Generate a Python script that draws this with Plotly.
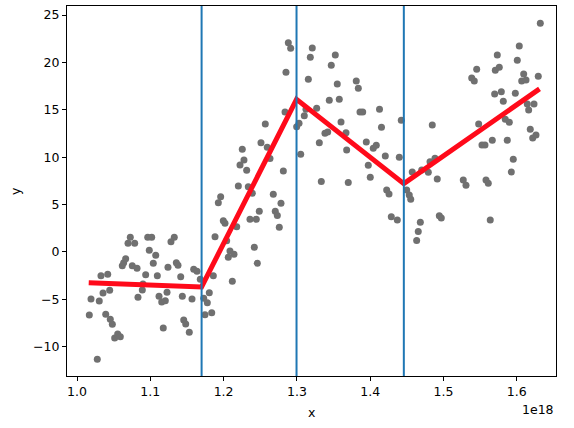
import numpy as np
import plotly.graph_objects as go

SCALE = 1e18

# scatter data (x in units of 1e18)
x_pts = [1.0168, 1.0191, 1.0277, 1.0304, 1.0327, 1.0355, 1.0392, 1.0419, 1.0446, 1.0454,
         1.0482, 1.0514, 1.0555, 1.0591, 1.0618, 1.0637, 1.0664, 1.0696, 1.0727, 1.0754,
         1.0787, 1.0819, 1.0832, 1.0891, 1.0900, 1.0937, 1.0965, 1.1019, 1.0986, 1.1041,
         1.1074, 1.1096, 1.1119, 1.1156, 1.1177, 1.1205, 1.1228, 1.1241, 1.1282, 1.1327,
         1.1355, 1.1378, 1.1415, 1.1437, 1.1456, 1.1483, 1.1532, 1.1569, 1.1592, 1.1637,
         1.1682, 1.1729, 1.1746, 1.1778, 1.1805, 1.1838, 1.1860,
         1.1883, 1.1928, 1.1960, 1.1996, 1.2019, 1.2042, 1.2064, 1.2087, 1.2142, 1.2119,
         1.2179, 1.2201, 1.2224, 1.2255, 1.2278, 1.2315, 1.2337, 1.2360, 1.2392, 1.2419,
         1.2446, 1.2460, 1.2487, 1.2510, 1.2569, 1.2596, 1.2633, 1.2678, 1.2705, 1.2733,
         1.2760, 1.2783, 1.2815, 1.2838, 1.2851, 1.2883, 1.2915, 1.2997,
         1.3029, 1.3052, 1.3101, 1.3124, 1.3156, 1.3183, 1.3210, 1.3270, 1.3306, 1.3333,
         1.3383, 1.3420, 1.3442, 1.3469, 1.3524, 1.3551, 1.3578, 1.3602, 1.3670, 1.3679,
         1.3701, 1.3810, 1.3838, 1.3861, 1.3898, 1.3947, 1.3974, 1.4001, 1.4042, 1.4083,
         1.4127, 1.4154, 1.4206, 1.4225, 1.4257, 1.4288, 1.4370, 1.4397, 1.4424,
         1.4498, 1.4533, 1.4553, 1.4574, 1.4634, 1.4656, 1.4684, 1.4703, 1.4793, 1.4816,
         1.4847, 1.4884, 1.4915, 1.4943, 1.4970, 1.5270, 1.5307, 1.5385, 1.5420, 1.5453,
         1.5480, 1.5525, 1.5566, 1.5580, 1.5611, 1.5638, 1.5666, 1.5698, 1.5707, 1.5734,
         1.5761, 1.5789, 1.5816, 1.5843, 1.5870, 1.5898, 1.5925, 1.5952, 1.5980, 1.6007,
         1.6034, 1.6067, 1.6094, 1.6126, 1.6143, 1.6162, 1.6184, 1.6217, 1.6235, 1.6262,
         1.6293, 1.6321]

y_pts = [-6.66, -4.97, -11.33, -5.18, -2.51, -4.34, -6.59, -2.36, -4.05, -7.11,
         -7.64, -9.09, -8.66, -8.95, -1.46, -1.14, -0.72, 0.91, 1.54, -1.46,
         0.91, -1.73, -4.79, -4.02, -3.39, -2.41, 1.54, 1.54, 0.17, -1.20,
         -0.36, -2.51, -4.69, -5.29, -8.03, -5.15, -4.26, -1.63, 1.08, 1.54,
         -1.14, -1.41, -2.62, -4.69, -7.19, -7.61, -8.49, -4.97, -1.84, -2.05,
         -2.89, -4.90, -6.63, -5.36, -4.31, -6.42, -2.51,
         1.60, 5.19, 5.83, 3.29, 3.02, 1.18, -0.57, 0.09, -0.25, -3.10,
         2.66, 6.95, 9.17, 10.83, 9.70, 8.61, 6.88, 3.44, 6.18, 0.49,
         3.44, -1.20, 4.28, 11.52, 13.50, 11.04, 9.86, 6.08, 4.28, 3.84,
         2.60, 5.13, 8.54, 14.76, 18.95, 22.08, 21.49, 13.21,
         13.57, 10.31, 14.37, 15.05, 18.21, 20.54, 21.52, 15.15, 11.52, 7.43,
         12.52, 12.65, 16.00, 19.69, 20.78, 17.72, 16.10, 13.71, 12.58, 10.75,
         7.32, 18.04, 17.26, 14.76, 14.76, 11.60, 9.14, 7.87, 10.93, 11.25,
         15.05, 13.15, 10.12, 6.53, 6.11, 3.71, 3.37, 9.98, 13.89,
         6.53, 6.00, 5.55, 8.43, 1.20, 2.15, 3.12, 8.64, 8.40, 9.52,
         13.39, 9.88, 7.69, 3.82, 3.58, 7.59, 7.03, 18.35, 18.04, 19.27,
         13.50, 11.28, 11.28, 7.59, 7.24, 3.37, 11.78, 16.66, 19.16, 20.78,
         19.48, 16.91, 15.89, 13.99, 11.78, 13.68, 8.43, 9.77, 16.74, 20.22,
         21.73, 18.04, 18.77, 18.14, 15.61, 14.97, 12.94, 12.02, 15.61, 12.34,
         18.53, 24.12]

# piecewise fit
fit_x = [1.0160, 1.1700, 1.2995, 1.4459, 1.6310]
fit_y = [-3.25, -3.70, 16.10, 7.20, 17.20]

# breakpoints (vertical lines)
breaks = [1.1700, 1.2995, 1.4459]

# axis ticks
x_ticks = [1.0, 1.1, 1.2, 1.3, 1.4, 1.5, 1.6]
x_ticklabels = ["1.0", "1.1", "1.2", "1.3", "1.4", "1.5", "1.6"]
y_ticks = [-10, -5, 0, 5, 10, 15, 20, 25]

FONT = "DejaVu Sans"
FS = 12.5

fig = go.Figure()
fig.add_trace(go.Scatter(
    x=np.array(x_pts) * SCALE, y=y_pts, mode="markers",
    marker=dict(color="#707070", size=7, line=dict(width=0)),
    showlegend=False, hoverinfo="skip"))
fig.add_trace(go.Scatter(
    x=np.array(fit_x) * SCALE, y=fit_y, mode="lines",
    line=dict(color="#ff0a1a", width=5),
    showlegend=False, hoverinfo="skip"))

for b in breaks:
    fig.add_shape(type="line", x0=b * SCALE, x1=b * SCALE, xref="x",
                  y0=0, y1=1, yref="paper",
                  line=dict(color="#1f77b4", width=2))

axis_common = dict(showline=True, linecolor="black", linewidth=1, mirror=True,
                   ticks="outside", ticklen=4, tickwidth=1, tickcolor="black",
                   showgrid=False, zeroline=False,
                   tickfont=dict(family=FONT, size=FS, color="black"))

fig.update_xaxes(range=[0.98636 * SCALE, 1.6535 * SCALE],
                 tickvals=[t * SCALE for t in x_ticks], ticktext=x_ticklabels,
                 **axis_common)
fig.update_yaxes(range=[-13.10, 25.95], tickvals=y_ticks, **axis_common)

fig.update_layout(
    width=574, height=428,
    margin=dict(l=67, r=18, t=6, b=52),
    plot_bgcolor="white", paper_bgcolor="white",
    font=dict(family=FONT, size=FS, color="black"),
    annotations=[
        dict(text="x", xref="paper", yref="paper", x=0.5, y=0, yshift=-36,
             showarrow=False, xanchor="center", yanchor="middle",
             font=dict(family=FONT, size=FS)),
        dict(text="y", xref="paper", yref="paper", x=0, y=0.5, xshift=-52,
             showarrow=False, xanchor="center", yanchor="middle", textangle=-90,
             font=dict(family=FONT, size=FS)),
        dict(text="1e18", xref="paper", yref="paper", x=1, y=0, yshift=-33,
             showarrow=False, xanchor="right", yanchor="middle",
             font=dict(family=FONT, size=FS)),
    ],
)

fig.write_html("out.html")
